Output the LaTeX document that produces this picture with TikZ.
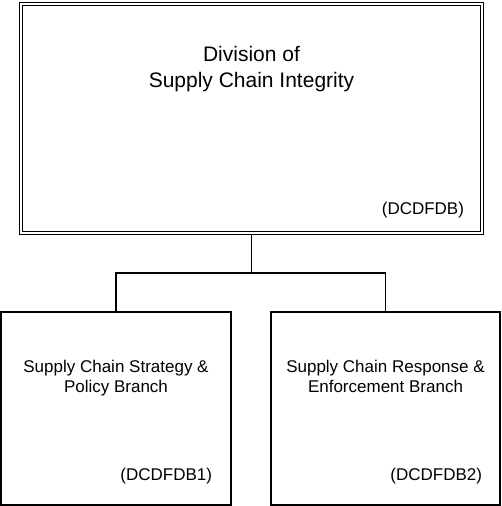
\documentclass[tikz,border=0pt]{standalone}
\usepackage{fontspec}
\setmainfont{Liberation Sans}
\usetikzlibrary{positioning}

\begin{document}
\begin{tikzpicture}[x=1pt,y=1pt,
	unit/.style={draw,line width=1.9pt,inner sep=0pt,outer sep=0pt},
	heading/.style={align=center,inner sep=0pt,outer sep=0pt},
	code/.style={inner sep=0pt,outer sep=0pt,font=\fontsize{17}{20}\selectfont}]
	\useasboundingbox (0,0) rectangle (501,-506);
	% division on top
	\node[unit,double,double distance=1.5pt,line width=1.3pt,outer sep=2pt,minimum width=461pt,minimum height=229pt] (division) at (251.5,-118.5) {};
	\node[heading,font=\fontsize{21}{26}\selectfont,below=44pt of division.north] (divisiontitle) {Division of\\Supply Chain Integrity};
	\node[code,above left=17pt and 20pt of division.south east] (divisioncode) {(DCDFDB)};
	% the two branches
	\node[unit,minimum width=230pt,minimum height=193pt] (strategy) at (116,-408.5) {};
	\node[heading,font=\fontsize{17}{20}\selectfont,below=48pt of strategy.north] (strategytitle) {Supply Chain Strategy \&\\Policy Branch};
	\node[code,above left=21pt and 19pt of strategy.south east] (strategycode) {(DCDFDB1)};
	\node[unit,minimum width=229pt,minimum height=193pt] (response) at (385.5,-408.5) {};
	\node[heading,font=\fontsize{17}{20}\selectfont,below=48pt of response.north] (responsetitle) {Supply Chain Response \&\\Enforcement Branch};
	\node[code,above left=21pt and 18pt of response.south east] (responsecode) {(DCDFDB2)};
	% connectors
	\coordinate[below=38pt of division.south] (junction);
	\draw[line width=1.9pt] (division.south) -- (junction) -| (strategy.north);
	\draw[line width=1.9pt] (junction) -| (response.north);
\end{tikzpicture}
\end{document}
